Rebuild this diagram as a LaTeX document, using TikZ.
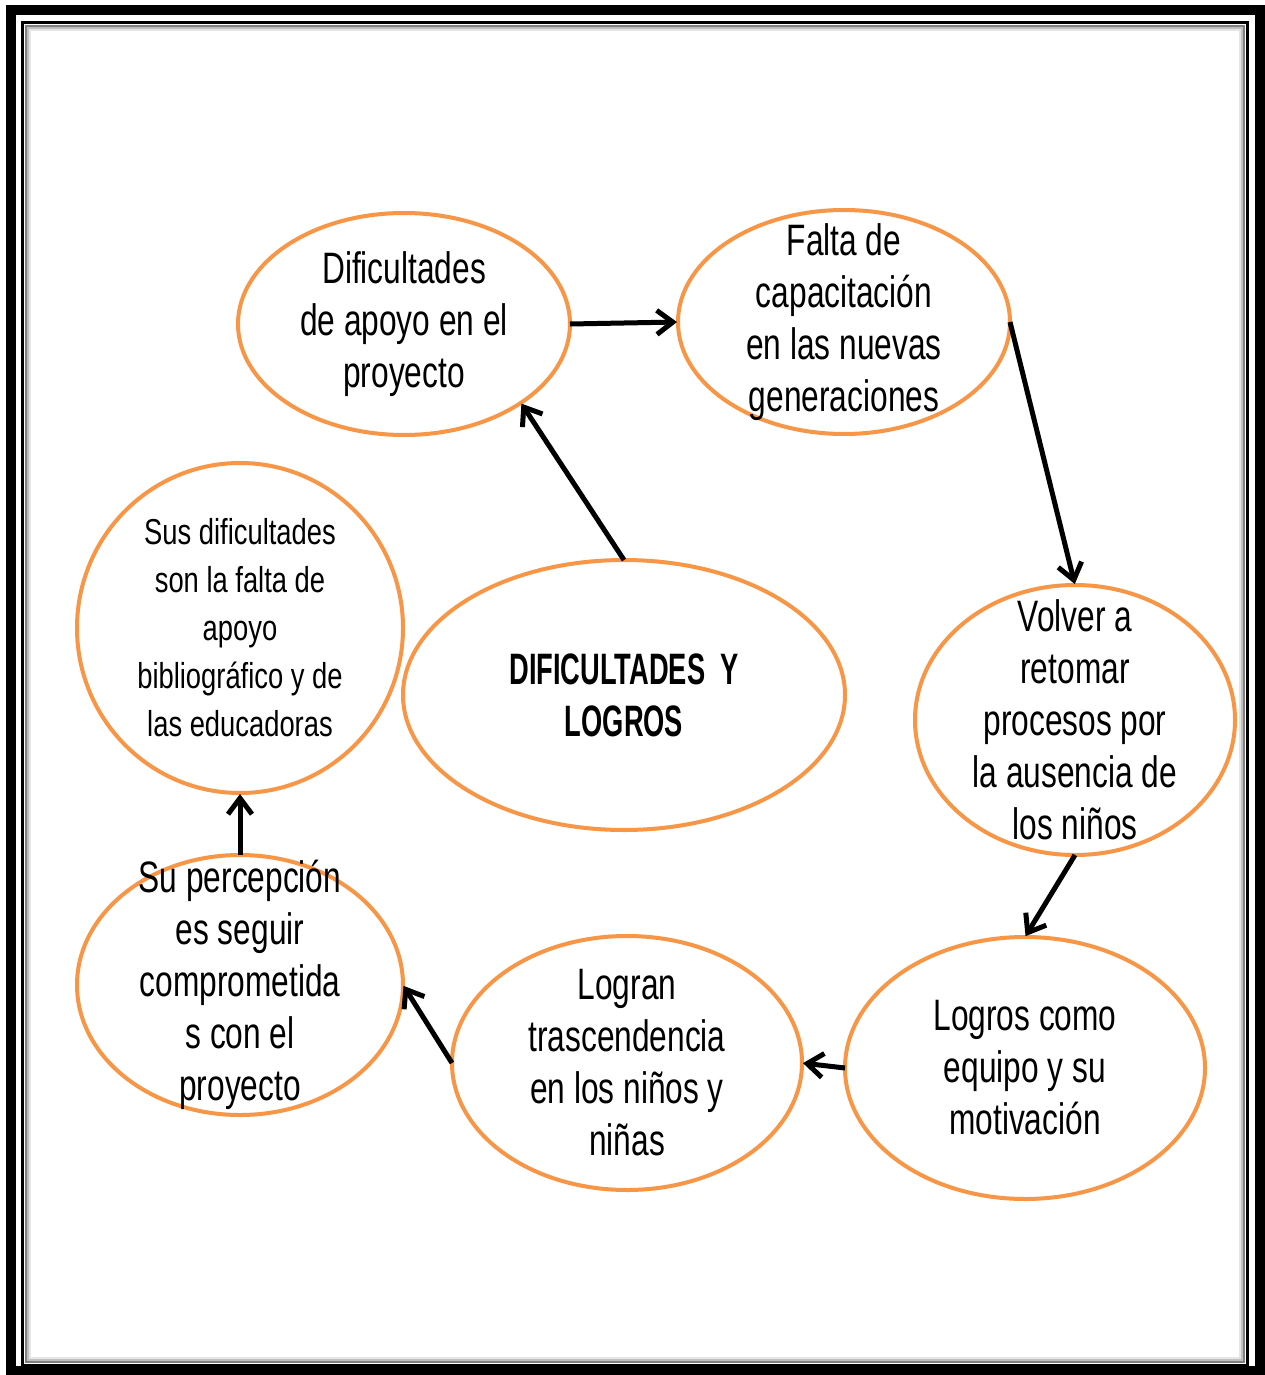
\documentclass[tikz,border=0pt]{standalone}
\usepackage{fontspec}
\setmainfont{Liberation Sans}[FakeStretch=0.72]
\newfontfamily\smallnar{Liberation Sans}[FakeStretch=0.76]
\newfontfamily\centnar{Liberation Sans}[FakeStretch=0.62]
\usetikzlibrary{arrows.meta,shapes.geometric}
\definecolor{ellorange}{HTML}{F79646}
\tikzset{
  ell/.style={ellipse, draw=ellorange, line width=4pt, inner sep=0pt, outer sep=0pt},
  txt/.style={align=center, inner sep=0pt, font=\fontsize{44}{52}\selectfont},
  flow/.style={line width=5pt, -{Straight Barb[length=16pt, width=24pt, line width=5pt]}, shorten >=1pt}
}
\begin{document}
\begin{tikzpicture}[x=1pt, y=-1pt]
\useasboundingbox (0,0) rectangle (1264,1375);
\fill[white] (0,0) rectangle (1264,1375);
% frame
\draw[black, line width=10pt] (10.5,10.5) rectangle (1259.5,1370.5);
\draw[black!10, line width=2pt] (30,30) rectangle (1240,1358);
\draw[black!25, line width=2pt] (28,28) rectangle (1242,1360);
\draw[black!50, line width=2pt] (26,26) rectangle (1244,1362);
\draw[black, line width=3.5pt] (22.5,22.5) rectangle (1247.5,1365.5);
% ellipses
\node[ell, minimum width=332pt, minimum height=222pt] (n1) at (404,324) {};
\node[ell, minimum width=332pt, minimum height=224pt] (n2) at (844,322) {};
\node[ell, minimum width=320pt, minimum height=270pt] (n3) at (1075,720) {};
\node[ell, minimum width=360pt, minimum height=262pt] (n4) at (1025,1068) {};
\node[ell, minimum width=350pt, minimum height=254pt] (n5) at (627,1063) {};
\node[ell, minimum width=326pt, minimum height=260pt] (n6) at (240,985) {};
\node[ell, minimum width=326pt, minimum height=330pt] (n7) at (240,628) {};
\node[ell, minimum width=442pt, minimum height=270pt] (n8) at (624,695) {};
% texts
\node[txt] (t1) at (n1) {Dificultades\\de apoyo en el\\proyecto};
\node[txt] (t2) at (n2) {Falta de\\capacitación\\en las nuevas\\generaciones};
\node[txt] (t3) at (n3) {Volver a\\retomar\\procesos por\\la ausencia de\\los niños};
\node[txt] (t4) at (n4) {Logros como\\equipo y su\\motivación};
\node[txt] (t5) at (n5) {Logran\\trascendencia\\en los niños y\\niñas};
\node[txt] (t6) at (n6) {Su percepción\\es seguir\\comprometida\\s con el\\proyecto};
\node[txt, font=\smallnar\fontsize{36}{48}\selectfont] (t7) at (n7) {Sus dificultades\\son la falta de\\apoyo\\bibliográfico y de\\las educadoras};
\node[txt, font=\centnar\bfseries\fontsize{44}{52}\selectfont] (t8) at (n8) {DIFICULTADES\ \ Y\\LOGROS};
% connectors
\draw[flow] (n1.east) -- (n2.west);
\draw[flow] (n2.east) -- (n3.north);
\draw[flow] (n3.south) -- (n4.north);
\draw[flow] (n4.west) -- (n5.east);
\draw[flow] (n5.west) -- (n6.east);
\draw[flow] (n6.north) -- (n7.south);
\draw[flow] (n8.north) -- (n1.-34.5);
\end{tikzpicture}
\end{document}
